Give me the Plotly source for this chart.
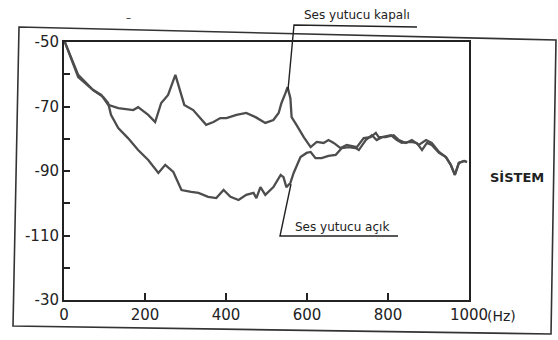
import plotly.graph_objects as go

# ---- data ----
freq_closed = [2, 35, 72, 92, 109, 134, 171, 183, 208, 225, 240, 257, 275, 297, 319, 337, 351, 369,
               386, 401, 426, 450, 473, 497, 517, 530, 537, 547, 552, 559, 562, 574, 592, 609, 624,
               641, 653, 666, 683, 698, 723, 740, 757, 770, 777, 794, 814, 827, 844, 859, 876, 894,
               908, 926, 943, 955, 965, 975, 988, 995]
db_closed = [-50.0, -60.2, -64.9, -66.4, -69.5, -70.5, -71.1, -70.2, -72.6, -74.8, -68.9, -66.4,
             -60.2, -69.5, -71.1, -73.6, -75.7, -74.8, -73.6, -73.6, -72.6, -72.0, -73.3, -75.1,
             -74.2, -72.0, -68.9, -65.8, -64.0, -67.4, -73.3, -75.7, -79.5, -82.6, -81.0, -81.3,
             -80.4, -81.3, -82.9, -81.9, -82.6, -79.8, -79.5, -78.2, -79.5, -79.5, -78.9, -80.4,
             -81.3, -80.4, -81.9, -80.4, -81.3, -84.1, -85.7, -88.1, -91.2, -87.5, -86.9, -87.2]

freq_open = [2, 35, 72, 97, 109, 116, 134, 158, 183, 208, 233, 250, 270, 282, 290, 314, 332, 356,
             376, 394, 411, 431, 450, 468, 475, 485, 497, 517, 535, 542, 549, 559, 567, 584, 599,
             609, 621, 636, 653, 671, 686, 703, 720, 728, 745, 760, 772, 785, 807, 822, 834, 856,
             871, 884, 896, 908, 926, 943, 955, 965, 975, 988, 995]
db_open = [-50.0, -60.9, -64.9, -67.1, -68.9, -72.6, -76.7, -79.8, -83.5, -86.6, -90.6, -88.1,
           -90.3, -93.4, -95.9, -96.5, -96.8, -98.0, -98.4, -95.9, -98.0, -99.0, -97.4, -96.8,
           -98.4, -95.0, -97.4, -95.0, -91.2, -91.9, -95.0, -93.7, -90.6, -85.7, -84.4, -84.1,
           -86.0, -86.0, -85.3, -85.0, -82.9, -82.6, -82.9, -83.5, -80.4, -78.9, -80.4, -79.5,
           -78.9, -80.4, -81.3, -81.0, -81.3, -83.5, -81.3, -81.9, -84.4, -85.7, -88.1, -91.2,
           -87.5, -86.9, -87.2]

y_tick_vals = [-130, -110, -90, -70, -50]
y_tick_text = ["-30", "-110", "-90", "-70", "-50"]
x_tick_vals = [0, 200, 400, 600, 800, 1000]
x_tick_text = ["0", "200", "400", "600", "800", "1000"]

label_closed = "Ses yutucu kapalı"
label_open = "Ses yutucu açık"
label_system = "SİSTEM"
x_unit = "(Hz)"

# ---- layout geometry (pixels) ----
W, H = 558, 340
L, R, T, B = 64, 469, 42, 300


def px(x):
    return (x - L) / (R - L)


def py(y):
    return (B - y) / (B - T)


def path(points):
    s = "M " + " L ".join(f"{px(x):.4f},{py(y):.4f}" for x, y in points)
    return s


LINE = "#4d4d4d"
INK = "#222222"
FONT = "DejaVu Sans"

fig = go.Figure()
fig.add_trace(go.Scatter(x=freq_closed, y=db_closed, mode="lines", name=label_closed,
                         line=dict(color=LINE, width=2.3), showlegend=False))
fig.add_trace(go.Scatter(x=freq_open, y=db_open, mode="lines", name=label_open,
                         line=dict(color=LINE, width=2.3), showlegend=False))

fig.update_xaxes(range=[0, 1000], tickvals=x_tick_vals, ticktext=x_tick_text,
                 ticks="inside", ticklen=7, tickwidth=2, tickcolor=INK,
                 showline=True, linecolor=INK, linewidth=2, mirror=True,
                 showgrid=False, zeroline=False,
                 tickfont=dict(family=FONT, size=15, color=INK))
fig.update_yaxes(range=[-130, -50], tickvals=y_tick_vals, ticktext=y_tick_text,
                 ticks="inside", ticklen=6, tickwidth=2, tickcolor=INK,
                 minor=dict(ticks="inside", ticklen=6, tickwidth=2, tickcolor=INK,
                            dtick=10, tick0=-130, showgrid=False),
                 showline=True, linecolor=INK, linewidth=2, mirror=True,
                 showgrid=False, zeroline=False,
                 tickfont=dict(family=FONT, size=15, color=INK))

shapes = [
    # outer frame (slightly skewed like the scan)
    dict(type="path", xref="paper", yref="paper",
         path=path([(19, 27), (556, 40), (551, 334), (13, 326)]) + " Z",
         line=dict(color="#333333", width=1.6)),
    # leader + underline, closed
    dict(type="path", xref="paper", yref="paper",
         path=path([(417, 27), (294, 25), (288, 90)]),
         line=dict(color=INK, width=1.4)),
    # leader + underline, open
    dict(type="path", xref="paper", yref="paper",
         path=path([(398, 236), (280, 236), (291, 184)]),
         line=dict(color=INK, width=1.4)),
]


def note(text, x, y, size, xanchor="center"):
    return dict(text=text, x=px(x), y=py(y), xref="paper", yref="paper",
                xanchor=xanchor, yanchor="middle", showarrow=False,
                font=dict(family=FONT, size=size, color=INK))


annotations = [
    note(label_closed, 357, 15, 12),
    note(label_open, 342, 227, 12),
    note("<b>" + label_system + "</b>", 517, 177, 13),
    note(x_unit, 485, 316, 14, xanchor="left"),
    note("–", 128, 17, 10),
]

fig.update_layout(width=W, height=H, margin=dict(l=L, r=W - R, t=T, b=H - B),
                  paper_bgcolor="white", plot_bgcolor="white",
                  shapes=shapes, annotations=annotations)

fig.write_html("out.html", config={"displayModeBar": False},
               post_script="document.body.style.margin='0';document.body.style.overflow='hidden';")
